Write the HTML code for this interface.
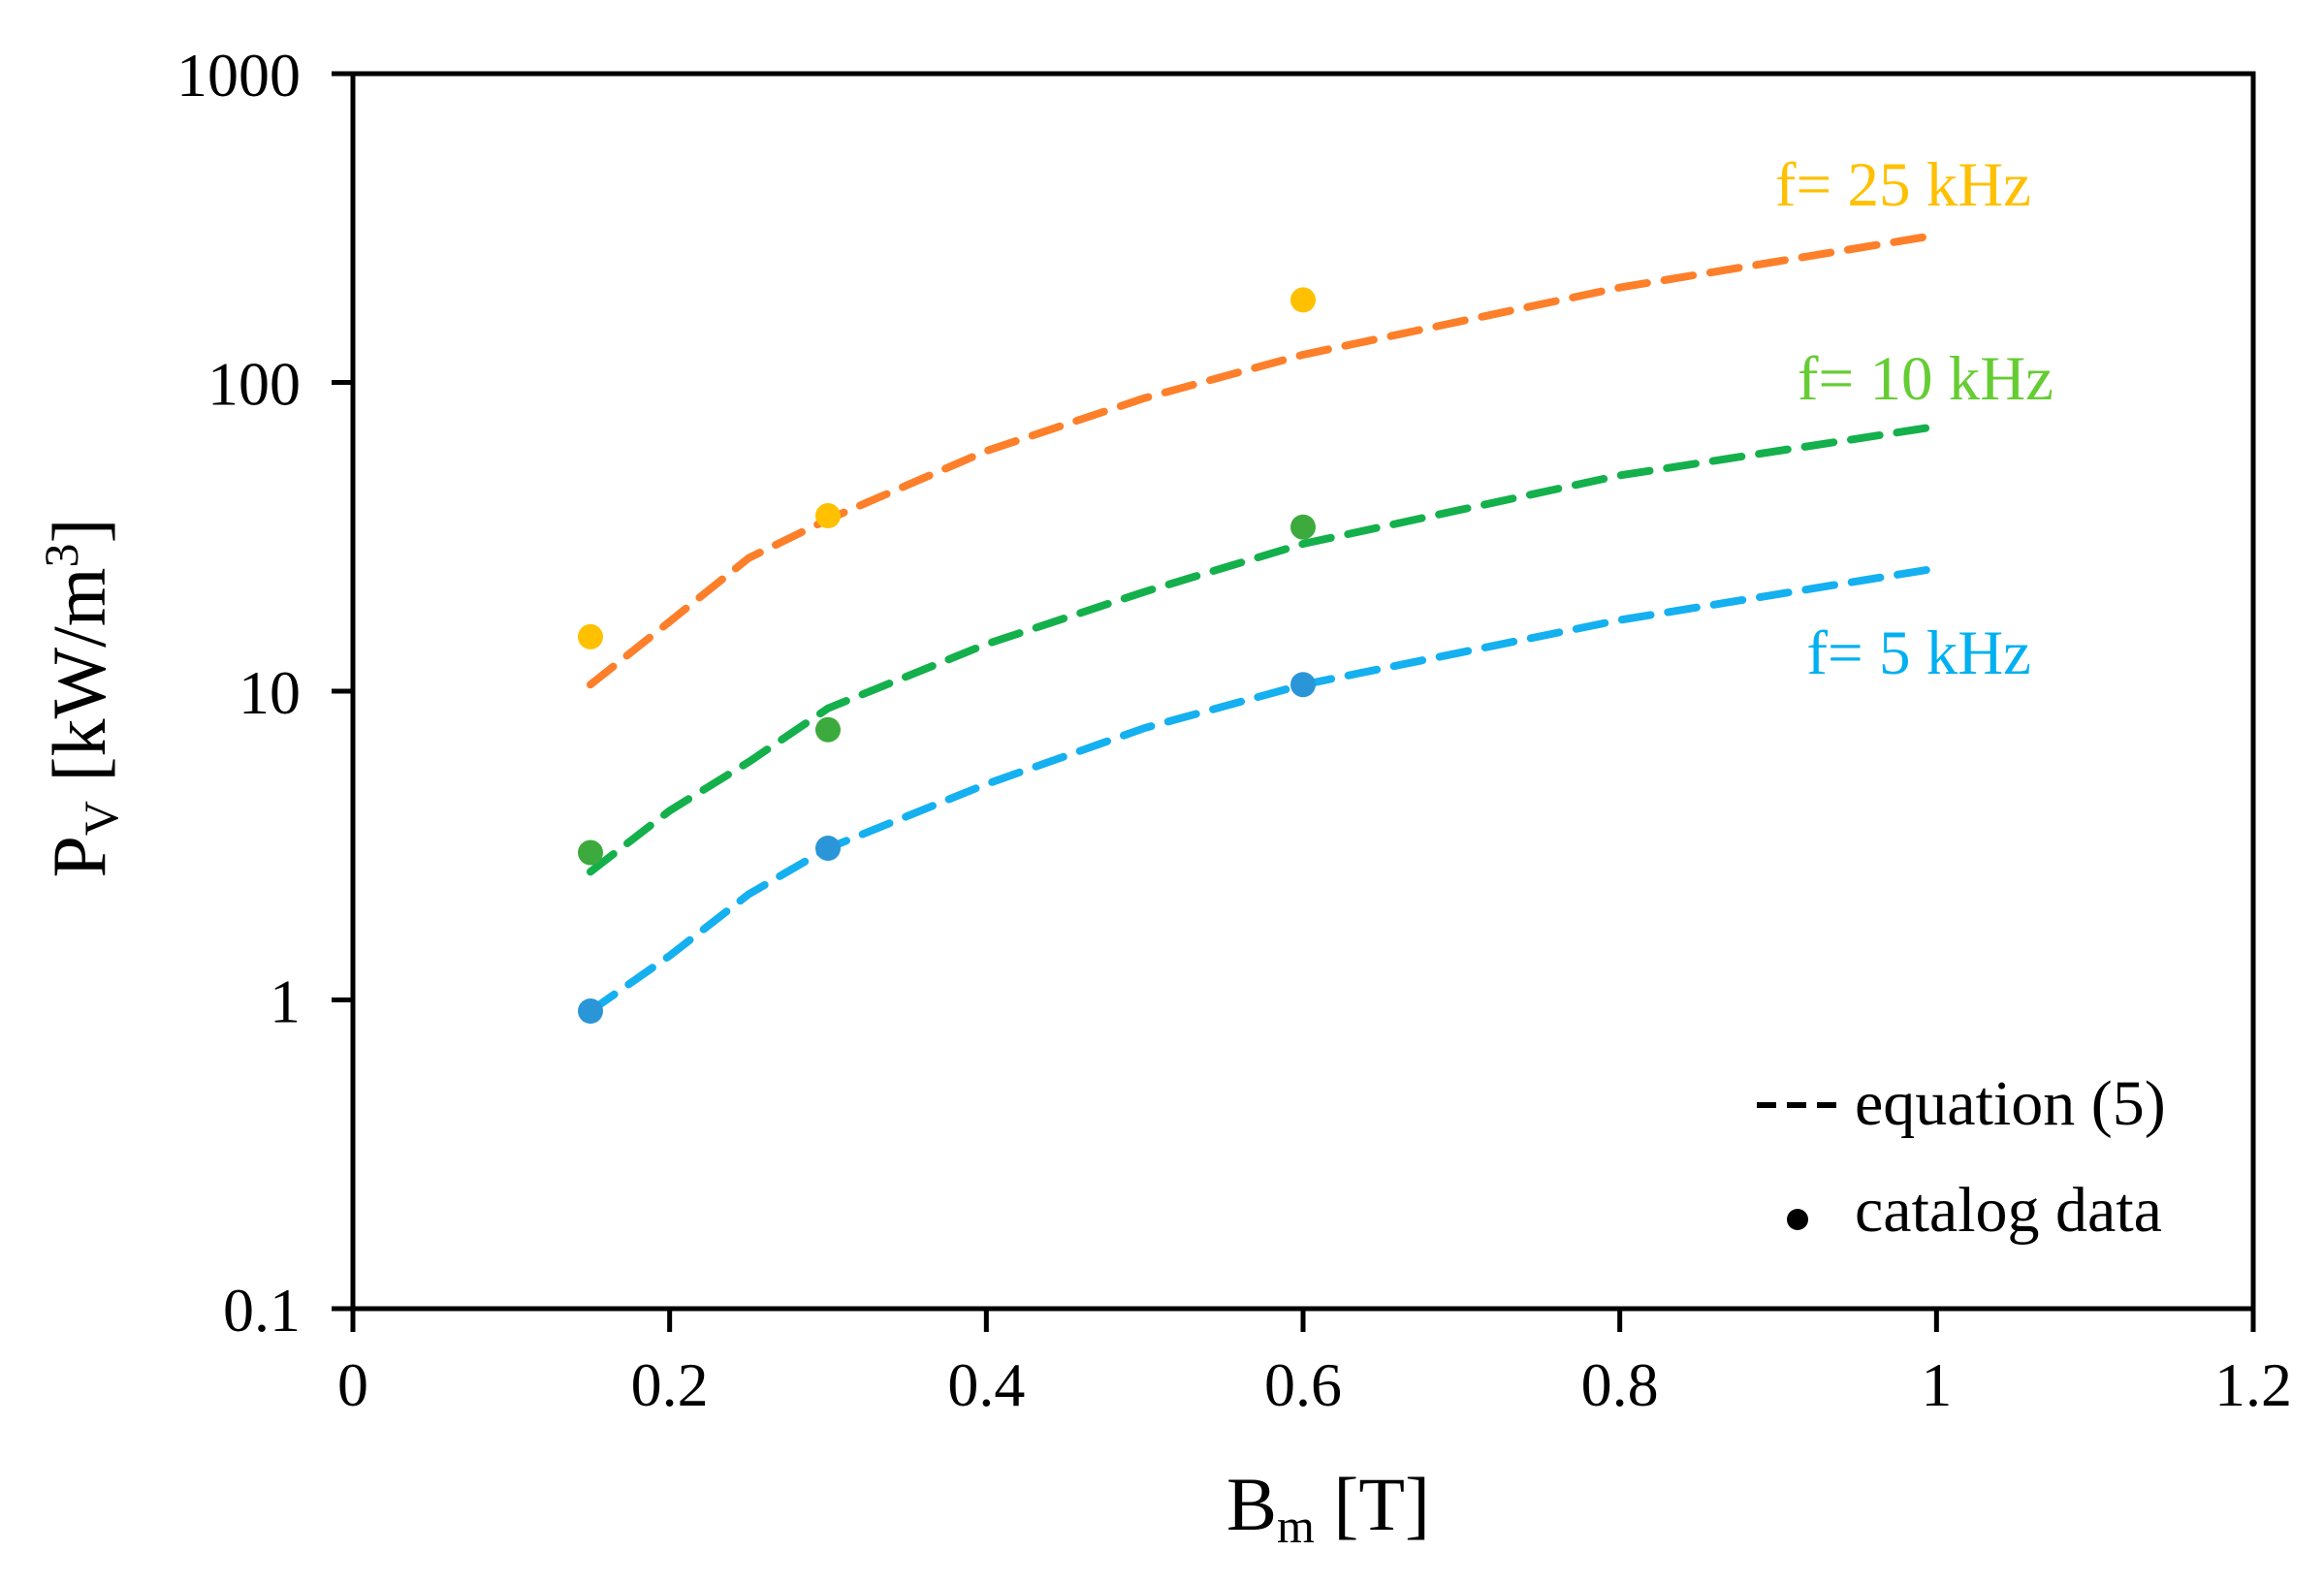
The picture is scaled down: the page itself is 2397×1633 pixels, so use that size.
<!DOCTYPE html>
<html><head><meta charset="utf-8"><style>
html,body{margin:0;padding:0;background:#fff}
svg{display:block;font-family:"Liberation Serif",serif}
</style></head><body>
<svg id="chart" width="2397" height="1633" viewBox="0 0 2397 1633" xmlns="http://www.w3.org/2000/svg">
<rect x="0" y="0" width="2397" height="1633" fill="#fff"/>
<g id="axes"></g>
<g id="series"></g>
<text x="2095" y="212" font-size="65" fill="#ffc000" text-anchor="end">f= 25 kHz</text>
<text x="2118" y="412" font-size="65" fill="#66cc33" text-anchor="end">f= 10 kHz</text>
<text x="2095" y="695" font-size="65" fill="#00b0f0" text-anchor="end">f= 5 kHz</text>
<g>
<line x1="1812" y1="1140" x2="1897" y2="1140" stroke="#000" stroke-width="6" stroke-dasharray="20,11"/>
<text x="1913" y="1160" font-size="66">equation (5)</text>
<circle cx="1854" cy="1258" r="11" fill="#000"/>
<text x="1913" y="1270" font-size="66">catalog data</text>
</g>
<text transform="translate(108,720) rotate(-90)" font-size="78" text-anchor="middle">P<tspan font-size="50" dy="13">V</tspan><tspan dy="-13"> [kW/m</tspan><tspan font-size="50" dy="-28">3</tspan><tspan dy="28">]</tspan></text>
<text x="1370" y="1578" font-size="78" text-anchor="middle">B<tspan font-size="50" dy="13">m</tspan><tspan dy="-13"> [T]</tspan></text>
</svg>
<script>
const xTicks = [0, 0.2, 0.4, 0.6, 0.8, 1, 1.2];
const xTickLabels = ["0", "0.2", "0.4", "0.6", "0.8", "1", "1.2"];
const yTicks = [0.1, 1, 10, 100, 1000];
const yTickLabels = ["0.1", "1", "10", "100", "1000"];
const lineX = [0.15, 0.2, 0.25, 0.3, 0.4, 0.5, 0.6, 0.8, 1.0];
const line25 = [10.5, 16.8, 27, 36, 60, 89, 123, 203, 300];
const line10 = [2.6, 4.1, 5.9, 8.8, 14.2, 21, 30, 50, 72];
const line5 = [0.92, 1.39, 2.2, 3.1, 5, 7.6, 10.5, 17, 25];
const pointX = [0.15, 0.3, 0.6];
const points25 = [15, 37, 185];
const points10 = [3.0, 7.5, 34];
const points5 = [0.92, 3.1, 10.5];

const L = 364, R = 2324, T = 76, B = 1350;
const sx = v => L + (v - 0) / 1.2 * (R - L);
const sy = v => B - (Math.log10(v) + 1) / 4 * (B - T);
const NS = "http://www.w3.org/2000/svg";
function mk(tag, attrs, parent) {
  const e = document.createElementNS(NS, tag);
  for (const k in attrs) e.setAttribute(k, attrs[k]);
  parent.appendChild(e);
  return e;
}
const axes = document.getElementById('axes');
const frame = mk('rect', {x: L, y: T, width: R - L, height: B - T, fill: 'none', stroke: '#000', 'stroke-width': 5}, axes);


xTicks.forEach((v, i) => {
  const t = mk('line', {x1: sx(v), y1: B, x2: sx(v), y2: B + 24, stroke: '#000', 'stroke-width': 5}, axes);
  
  
  const lb = mk('text', {x: sx(v), y: B + 100, 'font-size': 64, 'text-anchor': 'middle'}, axes);
  lb.textContent = xTickLabels[i];
  
  
});
yTicks.forEach((v, i) => {
  const t = mk('line', {x1: L - 22, y1: sy(v), x2: L, y2: sy(v), stroke: '#000', 'stroke-width': 5}, axes);
  
  
  const lb = mk('text', {x: 310, y: sy(v) + 23, 'font-size': 64, 'text-anchor': 'end'}, axes);
  lb.textContent = yTickLabels[i];
  
  
});
const series = document.getElementById('series');
function drawLine(vals, color, name) {
  const d = lineX.map((x, i) => (i ? 'L' : 'M') + sx(x).toFixed(1) + ',' + sy(vals[i]).toFixed(1)).join(' ');
  const p = mk('path', {d: d, fill: 'none', stroke: color, 'stroke-width': 8, 'stroke-dasharray': '30,18', 'stroke-linecap': 'round', 'stroke-linejoin': 'round'}, series);
  
  
}
function drawPoints(vals, color, name) {
  pointX.forEach((x, i) => {
    const c = mk('circle', {cx: sx(x), cy: sy(vals[i]), r: 13, fill: color}, series);
    
    
  });
}
drawLine(line25, '#fd7f2a', 'line-25khz');
drawLine(line10, '#14b04c', 'line-10khz');
drawLine(line5, '#14b0f0', 'line-5khz');
drawPoints(points25, '#ffc000', 'point-25khz');
drawPoints(points10, '#3daa3d', 'point-10khz');
drawPoints(points5, '#2a96d8', 'point-5khz');
</script>
</body></html>
